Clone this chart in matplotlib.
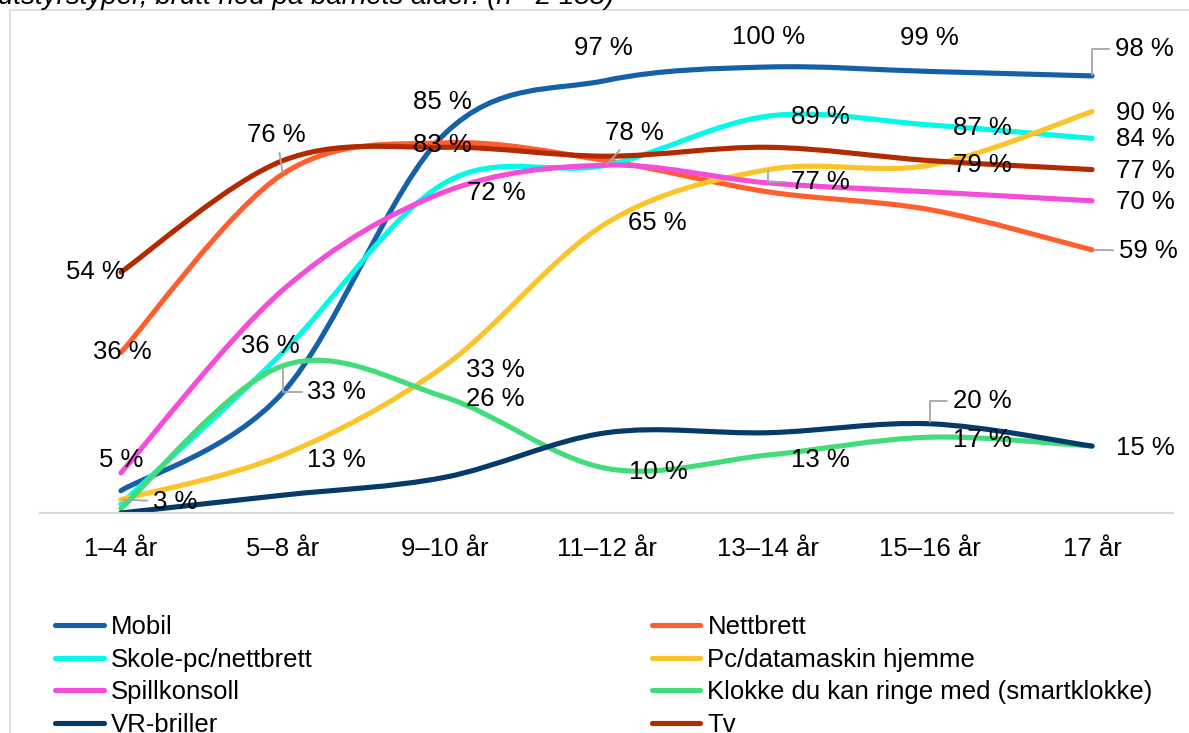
import matplotlib
matplotlib.use("Agg")
import matplotlib.pyplot as plt
from matplotlib.path import Path
from matplotlib.patches import PathPatch, Rectangle
from matplotlib.lines import Line2D
import numpy as np

plt.rcParams['font.family'] = ['Liberation Sans', 'DejaVu Sans']

# data (percent)
ages = ['1–4 år', '5–8 år', '9–10 år', '11–12 år', '13–14 år', '15–16 år', '17 år']
mobil = [5, 27, 85, 97, 100, 99, 98]
nettbrett = [36, 76, 83, 79, 72, 68, 59]
skole_pc = [2, 36, 74, 78, 89, 87, 84]
pc_hjemme = [3, 13, 33, 65, 77, 78, 90]
spillkonsoll = [9, 50, 72, 78, 74, 72, 70]
klokke = [1, 33, 26, 10, 13, 17, 15]
vr_briller = [0, 4, 8, 18, 18, 20, 15]
tv = [54, 79, 82, 80, 82, 79, 77]

names = ['Mobil', 'Nettbrett', 'Skole-pc/nettbrett', 'Pc/datamaskin hjemme',
         'Spillkonsoll', 'Klokke du kan ringe med (smartklokke)', 'VR-briller', 'Tv']
series = [mobil, nettbrett, skole_pc, pc_hjemme, spillkonsoll, klokke, vr_briller, tv]
colors = ['#1560A8', '#FF5F2E', '#00FBE6', '#FBC42A', '#F54DDA', '#43DC7A', '#053A69', '#B22A00']

# which points carry a label: (series index, age index, dx px, dy px, leader)
labels = [
    (7, 0, -26, 0, None), (1, 0, 1, 0, None), (0, 0, 0, -31, None), (3, 0, 54, 2, 'line'),
    (1, 1, -6, -39, 'line'), (2, 1, -12, -6, None), (5, 1, 54, 26, 'elbow'), (3, 1, 54, 5, None),
    (0, 2, -2, -32, None), (1, 2, -2, 2, None), (4, 2, 52, 1, None), (3, 2, 51, 4, None), (5, 2, 51, 2, None),
    (0, 3, -3, -32, None), (2, 3, 28, -32, 'line'), (3, 3, 51, 0, None), (5, 3, 52, 4, None),
    (0, 4, 0, -30, None), (2, 4, 52, 1, None), (3, 4, 52, 12, 'elbow'), (5, 4, 52, 5, None),
    (0, 5, -1, -33, None), (2, 5, 52, 3, None), (7, 5, 52, 4, None), (6, 5, 52, -23, 'elbow'), (5, 5, 52, 3, None),
    (0, 6, 52, -27, 'elbow'), (3, 6, 53, 1, None), (2, 6, 53, 1, None), (7, 6, 53, 1, None),
    (4, 6, 53, 1, None), (1, 6, 56, 1, 'line'), (6, 6, 53, 2, None),
]

W, H = 1189, 733
fig = plt.figure(figsize=(W / 100, H / 100), dpi=100)
ax = fig.add_axes([40 / W, 220 / H, 1133 / W, 490.6 / H])
ax.set_xlim(-0.5, 6.5)
ax.set_ylim(0, 110)

x = np.arange(len(ages))


def smooth_path(xs, ys):
    # cubic bezier segments like Excel's smoothed line
    pts = np.column_stack([xs, ys]).astype(float)
    n = len(pts)
    verts = [pts[0]]
    codes = [Path.MOVETO]
    for i in range(n - 1):
        p0 = pts[max(i - 1, 0)]
        p1 = pts[i]
        p2 = pts[i + 1]
        p3 = pts[min(i + 2, n - 1)]
        verts += [p1 + (p2 - p0) / 6, p2 - (p3 - p1) / 6, p2]
        codes += [Path.CURVE4] * 3
    return Path(verts, codes)


for vals, col in zip(series, colors):
    patch = PathPatch(smooth_path(x, vals), fill=False, edgecolor=col, lw=3.7,
                      capstyle='round', joinstyle='round')
    ax.add_patch(patch)

fs = 18.5
for si, ai, dx, dy, leader in labels:
    v = series[si][ai]
    kw = {}
    if leader == 'line':
        kw['arrowprops'] = dict(arrowstyle='-', color='#A6A6A6', lw=1.3, shrinkA=2, shrinkB=1)
    elif leader == 'elbow':
        kw['arrowprops'] = dict(arrowstyle='-', color='#A6A6A6', lw=1.3, shrinkA=2, shrinkB=1,
                                connectionstyle='angle,angleA=0,angleB=90,rad=0', relpos=(0, 0.5))
    ax.annotate(f'{v} %', xy=(ai, v), xytext=(dx * 0.72, -dy * 0.72), textcoords='offset points',
                ha='center', va='center', fontsize=fs, color='black', annotation_clip=False, **kw)

for s in ['top', 'right', 'left']:
    ax.spines[s].set_visible(False)
ax.spines['bottom'].set_color('#D9D9D9')
ax.spines['bottom'].set_linewidth(1.5)
ax.set_yticks([])
ax.set_xticks(x)
ax.set_xticklabels(ages, fontsize=fs)
ax.tick_params(axis='x', length=0, pad=17)

# legend, filled row by row
order = [0, 2, 4, 6, 1, 3, 5, 7]
handles = [Line2D([], [], color=colors[i], lw=3.7, solid_capstyle='round') for i in order]
fig.legend(handles, [names[i] for i in order], ncol=2, loc='upper left',
           bbox_to_anchor=(55 / W, 1 - 615 / H), frameon=False, fontsize=fs,
           handlelength=1.9, handletextpad=0.27, columnspacing=13.2,
           labelspacing=0.34, borderpad=0, borderaxespad=0)

# chart frame and clipped title above it
fig.patches.append(Rectangle((10 / W, -0.1), 1.2, 1.1 - 10 / H, transform=fig.transFigure,
                             fill=False, edgecolor='#D9D9D9', lw=1.2))
fig.text(-2 / W, 1 - 4 / H, 'utstyrstyper, brutt ned på barnets alder. (n= 2 188)',
         style='italic', fontsize=20, va='baseline', ha='left')

fig.savefig('out.png', dpi=100)
